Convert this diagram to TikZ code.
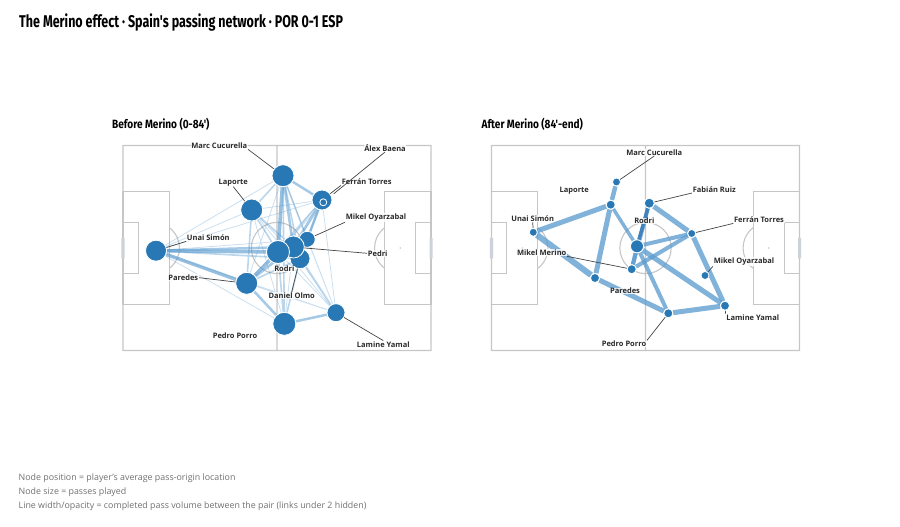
\documentclass[tikz,border=0pt]{standalone}
\usepackage{fontspec}
\setmainfont{Open Sans}
\newfontfamily\titlefont[FakeStretch=0.735]{Fira Sans}
\newfontfamily\headfont[FakeStretch=0.84]{Fira Sans}
\usepackage{xcolor}
\usetikzlibrary{backgrounds}
\pgfdeclarelayer{edges}
\pgfsetlayers{background,edges,main}

\definecolor{nodeblue}{HTML}{2878B5}
\definecolor{edgeblue}{HTML}{5D9CCF}
\definecolor{darkedge}{HTML}{3A7FBA}
\definecolor{pitchline}{HTML}{C6C6C6}
\definecolor{goalgrey}{HTML}{CDD2DA}
\definecolor{labeltext}{HTML}{2A2A2A}
\definecolor{leadgrey}{HTML}{444444}
\definecolor{notegrey}{HTML}{707070}

\newcommand{\drawpitch}[1]{%
    \begin{scope}[shift={(#1,145.5)}, x=2.567pt, y=-2.5625pt, pitch]
        \draw (0,0) rectangle (120,80) (60,0) -- (60,80) (60,40) circle[radius=10];
        \draw (0,18) rectangle (18,62) (0,30) rectangle (6,50);
        \draw (120,18) rectangle (102,62) (120,30) rectangle (114,50);
        \begin{scope}
            \clip (18,0) rectangle (102,80);
            \draw (12,40) circle[radius=10] (108,40) circle[radius=10];
        \end{scope}
        \fill[pitchline] (60,40) circle[radius=0.3] (12,40) circle[radius=0.3] (108,40) circle[radius=0.3];
        \fill[goalgrey] (-0.6,36) rectangle (0.6,44) (119.4,36) rectangle (120.6,44);
    \end{scope}}

\begin{document}
\begin{tikzpicture}[x=1pt, y=-1pt,
    pitch/.style={draw=pitchline, line width=1.1pt},
    player/.style={circle, fill=nodeblue, draw=white, line width=0.8pt, inner sep=0pt, minimum size=#1},
    lab/.style={font=\bfseries\fontsize{7.5}{8}\selectfont, text=labeltext, fill=white, fill opacity=0.8, text opacity=1, inner sep=0.6pt},
    lead/.style={draw=leadgrey, line width=0.7pt},
    w1/.style={draw=edgeblue, line width=0.8pt, draw opacity=0.32},
    w2/.style={draw=edgeblue, line width=1.6pt, draw opacity=0.42},
    w3/.style={draw=edgeblue, line width=2.5pt, draw opacity=0.55},
    w4/.style={draw=edgeblue, line width=3.5pt, draw opacity=0.65},
    aw/.style={draw=edgeblue, line width=#1, draw opacity=0.78},
    heading/.style={anchor=base west, inner sep=0pt, font=\headfont\bfseries\fontsize{12}{14}\selectfont},
    note/.style={anchor=base west, inner sep=0pt, text=notegrey, font=\fontsize{8.85}{10}\selectfont}]
    \useasboundingbox (0,0) rectangle (900,527);

    \node[heading, font=\titlefont\bfseries\fontsize{17}{19}\selectfont] (title) at (19,27.3) {The Merino effect · Spain's passing network · POR 0-1 ESP};
    \node[heading] (before) at (112,128.3) {Before Merino (0-84')};
    \node[heading] (after) at (481.5,128.3) {After Merino (84'-end)};

    \begin{scope}[on background layer]
        \drawpitch{123}
        \drawpitch{491.5}
    \end{scope}

    % before
    \node[player=22pt] (bCuc) at (283,175.7) {};
    \node[player=22pt] (bLap) at (251.7,210) {};
    \node[player=21pt] (bSim) at (156,250.7) {};
    \node[player=22pt] (bPar) at (246.7,283.3) {};
    \node[player=23pt] (bPor) at (284.3,323.8) {};
    \node[player=18pt] (bLam) at (336,312.7) {};
    \node[player=20pt] (bFer) at (322,200) {};
    \node[player=7pt] (bBae) at (323.3,202.3) {};
    \node[player=16pt] (bOya) at (307.2,239.3) {};
    \node[player=20pt] (bOlm) at (300,258.7) {};
    \node[player=22pt] (bPed) at (293.3,247) {};
    \node[player=23pt] (bRod) at (278,252) {};

    \begin{pgfonlayer}{edges}
        \draw[w1] (bSim) -- (bCuc) (bSim) -- (bLap) (bSim) -- (bPor) (bSim) -- (bLam) (bSim) -- (bFer) (bSim) -- (bOya)
            (bCuc) -- (bLam) (bCuc) -- (bPar) (bLap) -- (bFer) (bLap) -- (bOlm) (bLap) -- (bPor) (bLap) -- (bLam)
            (bFer) -- (bLam) (bFer) -- (bPar) (bPar) -- (bLam) (bPor) -- (bPed) (bLam) -- (bRod) (bLam) -- (bOya)
            (bBae) -- (bRod) (bBae) -- (bPed);
        \draw[w2] (bSim) -- (bOlm) (bCuc) -- (bOlm) (bCuc) -- (bPor) (bCuc) -- (bOya) (bCuc) -- (bLap) (bLap) -- (bRod)
            (bLap) -- (bPed) (bLap) -- (bPar) (bFer) -- (bRod) (bFer) -- (bOlm) (bPar) -- (bOlm) (bPor) -- (bRod)
            (bPor) -- (bOlm) (bLam) -- (bPed) (bLam) -- (bOlm) (bRod) -- (bOlm);
        \draw[w3] (bPar) -- (bPor) (bPor) -- (bLam) (bCuc) -- (bFer) (bFer) -- (bPed) (bSim) -- (bPed) (bCuc) -- (bPed)
            (bPar) -- (bPed) (bFer) -- (bOya);
        \draw[w4] (bPar) -- (bRod) (bSim) -- (bPar) (bCuc) -- (bRod) (bSim) -- (bRod);
    \end{pgfonlayer}

    \node[lab] (bCucL) at (219.3,145.7) {Marc Cucurella};
    \node[lab] (bBaeL) at (385,147.7) {Álex Baena};
    \node[lab] (bFerL) at (366.7,181.7) {Ferrán Torres};
    \node[lab] (bOyaL) at (376,217.7) {Mikel Oyarzabal};
    \node[lab] (bPedL) at (377.7,253.3) {Pedri};
    \node[lab] (bRodL) at (284.3,269) {Rodri};
    \node[lab] (bOlmL) at (291.7,295.7) {Daniel Olmo};
    \node[lab] (bLapL) at (233.3,182.3) {Laporte};
    \node[lab] (bSimL) at (208.3,237.7) {Unai Simón};
    \node[lab] (bParL) at (183.3,277.7) {Paredes};
    \node[lab] (bPorL) at (235,335.7) {Pedro Porro};
    \node[lab] (bLamL) at (383.3,344.3) {Lamine Yamal};

    \draw[lead] (bCucL.south east) -- (bCuc);
    \draw[lead, shorten >=9.5pt] (bBaeL.south) -- (bBae);
    \draw[lead] (bFerL.south west) -- (bFer);
    \draw[lead] (bOyaL.south west) -- (bOya);
    \draw[lead] (bPedL.west) -- (bPed);
    \draw[lead] (bOlmL.north) -- (bOlm);
    \draw[lead] (bLapL.south) -- (bLap);
    \draw[lead] (bSimL.south west) -- (bSim);
    \draw[lead] (bParL.east) -- (bPar);
    \draw[lead] (bLamL.north) -- (bLam);

    % after
    \node[player=8pt] (aCuc) at (616.5,182) {};
    \node[player=9pt] (aLap) at (610.7,204.7) {};
    \node[player=10pt] (aFab) at (649.3,203.2) {};
    \node[player=8pt] (aSim) at (533.3,232.3) {};
    \node[player=8pt] (aFer) at (691.7,233.5) {};
    \node[player=13pt] (aRod) at (637,246.3) {};
    \node[player=9pt] (aMer) at (631.7,269.2) {};
    \node[player=8pt] (aOya) at (705,275.5) {};
    \node[player=9pt] (aPar) at (595,278) {};
    \node[player=9pt] (aLam) at (725,305.7) {};
    \node[player=9pt] (aPor) at (668.3,313.3) {};

    \begin{pgfonlayer}{edges}
        \draw[aw=5pt] (aSim) -- (aLap);
        \draw[aw=6pt] (aSim) -- (aPar);
        \draw[aw=4.5pt] (aLap) -- (aCuc);
        \draw[aw=5pt] (aLap) -- (aPar);
        \draw[aw=3.5pt] (aLap) -- (aRod);
        \draw[aw=5pt] (aPar) -- (aPor);
        \draw[aw=5pt] (aPor) -- (aLam);
        \draw[aw=4pt] (aPor) -- (aRod);
        \draw[aw=4pt] (aFab) -- (aMer);
        \draw[aw=5pt] (aFab) -- (aFer);
        \draw[aw=4pt] (aFer) -- (aRod);
        \draw[aw=4pt] (aFer) -- (aMer);
        \draw[aw=5pt] (aFer) -- (aLam);
        \draw[aw=5pt] (aRod) -- (aLam);
        \draw[aw=4pt] (aRod) -- (aMer);
        \draw[draw=darkedge, line width=3.5pt, draw opacity=0.9] (aRod) -- (aFab);
    \end{pgfonlayer}

    \node[lab] (aCucL) at (654.3,152.3) {Marc Cucurella};
    \node[lab] (aLapL) at (574.3,190.7) {Laporte};
    \node[lab] (aFabL) at (714.3,189.3) {Fabián Ruiz};
    \node[lab] (aSimL) at (532.7,218.7) {Unai Simón};
    \node[lab] (aRodL) at (644.3,221) {Rodri};
    \node[lab] (aFerL) at (759,219.7) {Ferrán Torres};
    \node[lab] (aMerL) at (541.7,252.7) {Mikel Merino};
    \node[lab] (aOyaL) at (744,261.7) {Mikel Oyarzabal};
    \node[lab] (aParL) at (625,291) {Paredes};
    \node[lab] (aLamL) at (752.7,317.3) {Lamine Yamal};
    \node[lab] (aPorL) at (624,344) {Pedro Porro};

    \draw[lead] (aCucL.south) -- (aCuc);
    \draw[lead] (aFabL.south west) -- (aFab);
    \draw[lead] (aSimL.south) -- (aSim);
    \draw[lead] (aFerL.south west) -- (aFer);
    \draw[lead] (aMerL.south east) -- (aMer);
    \draw[lead] (aOyaL.south west) -- (aOya);
    \draw[lead] (aLamL.north west) -- (aLam);
    \draw[lead] (aPorL.north east) -- (aPor);

    \node[note] (note1) at (18.5,480.3) {Node position = player's average pass-origin location};
    \node[note] (note2) at (18.5,494.6) {Node size = passes played};
    \node[note] (note3) at (18.5,508.9) {Line width/opacity = completed pass volume between the pair (links under 2 hidden)};
\end{tikzpicture}
\end{document}
